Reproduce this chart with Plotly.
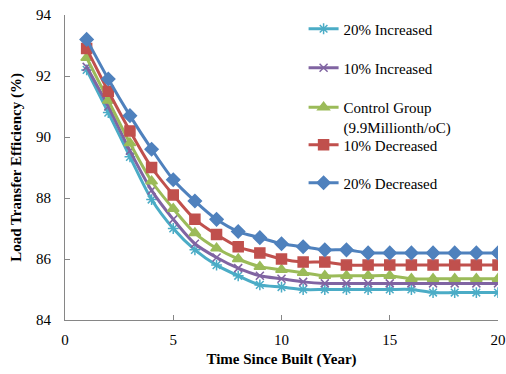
import plotly.graph_objects as go

years = list(range(1, 21))

inc20 = [92.2, 90.8, 89.35, 87.95, 87.0, 86.3, 85.8, 85.45, 85.15, 85.08,
         85.0, 85.0, 85.0, 85.0, 85.0, 85.0, 84.9, 84.9, 84.9, 84.9]
inc10 = [92.3, 91.0, 89.55, 88.25, 87.3, 86.5, 86.05, 85.7, 85.45, 85.35,
         85.25, 85.2, 85.2, 85.2, 85.2, 85.2, 85.2, 85.2, 85.2, 85.2]
control = [92.6, 91.2, 89.8, 88.55, 87.65, 86.85, 86.35, 86.0, 85.75, 85.65,
           85.55, 85.45, 85.45, 85.45, 85.45, 85.35, 85.35, 85.35, 85.35, 85.35]
dec10 = [92.9, 91.5, 90.2, 89.0, 88.1, 87.3, 86.8, 86.4, 86.2, 86.0,
         85.9, 85.9, 85.8, 85.8, 85.8, 85.8, 85.8, 85.8, 85.8, 85.8]
dec20 = [93.2, 91.9, 90.7, 89.6, 88.6, 87.9, 87.3, 86.9, 86.7, 86.5,
         86.4, 86.3, 86.3, 86.2, 86.2, 86.2, 86.2, 86.2, 86.2, 86.2]

names = ["20% Increased", "10% Increased", "Control Group<br>(9.9Millionth/oC)",
         "10% Decreased", "20% Decreased"]
series = [inc20, inc10, control, dec10, dec20]
colors = ["#4BACC6", "#8064A2", "#9BBB59", "#C0504D", "#4F81BD"]
symbols = ["asterisk-open", "x-thin-open", "triangle-up", "square", "diamond"]
msizes = [9, 8, 10, 10, 10]
legend_y_px = [29, 68, 91, 145, 183]

FONT = "Liberation Serif"
L, R, T, B = 65, 8, 15, 54
W, H = 506, 374
ph = H - T - B

fig = go.Figure()
layout_legends = {}
for i, (nm, ys, c, s, ms) in enumerate(zip(names, series, colors, symbols, msizes)):
    lg = "legend" if i == 0 else f"legend{i+1}"
    fig.add_trace(go.Scatter(
        x=years, y=ys, name=nm, mode="lines+markers",
        line=dict(color=c, width=3, shape="spline", smoothing=0.8),
        marker=dict(symbol=s, size=ms, color=c, line=dict(color=c, width=1.5)),
        legend=lg,
    ))
    ypaper = 1 - (legend_y_px[i] - T) / ph
    layout_legends[lg] = dict(
        x=0.551, xanchor="left", y=ypaper, yanchor="top" if i == 2 else "middle",
        bgcolor="rgba(0,0,0,0)", borderwidth=0, valign="top",
        font=dict(family=FONT, size=15, color="black"),
    )

fig.update_layout(
    width=W, height=H,
    margin=dict(l=L, r=R, t=T, b=B, pad=0),
    paper_bgcolor="white", plot_bgcolor="white",
    font=dict(family=FONT, size=15, color="black"),
    showlegend=True,
    **layout_legends,
)

fig.update_xaxes(
    range=[0, 20], tickvals=[0, 5, 10, 15, 20], ticks="inside", ticklen=5,
    tickcolor="#868686", showline=True, linecolor="#868686", linewidth=1,
    showgrid=False, zeroline=False, ticklabelstandoff=6, automargin=False,
    tickfont=dict(family=FONT, size=15, color="black"),
    title=dict(text="<b>Time Since Built (Year)</b>", standoff=6,
               font=dict(family=FONT, size=15, color="black")),
)
fig.update_yaxes(
    range=[84, 94], tickvals=[84, 86, 88, 90, 92, 94], ticks="inside", ticklen=5,
    tickcolor="#868686", showline=True, linecolor="#868686", linewidth=1,
    showgrid=False, zeroline=False, ticklabelstandoff=10, automargin=False,
    tickfont=dict(family=FONT, size=15, color="black"),
    title=dict(text="<b>Load Transfer Efficiency (%)</b>", standoff=10,
               font=dict(family=FONT, size=15, color="black")),
)

fig.write_html("out.html")
